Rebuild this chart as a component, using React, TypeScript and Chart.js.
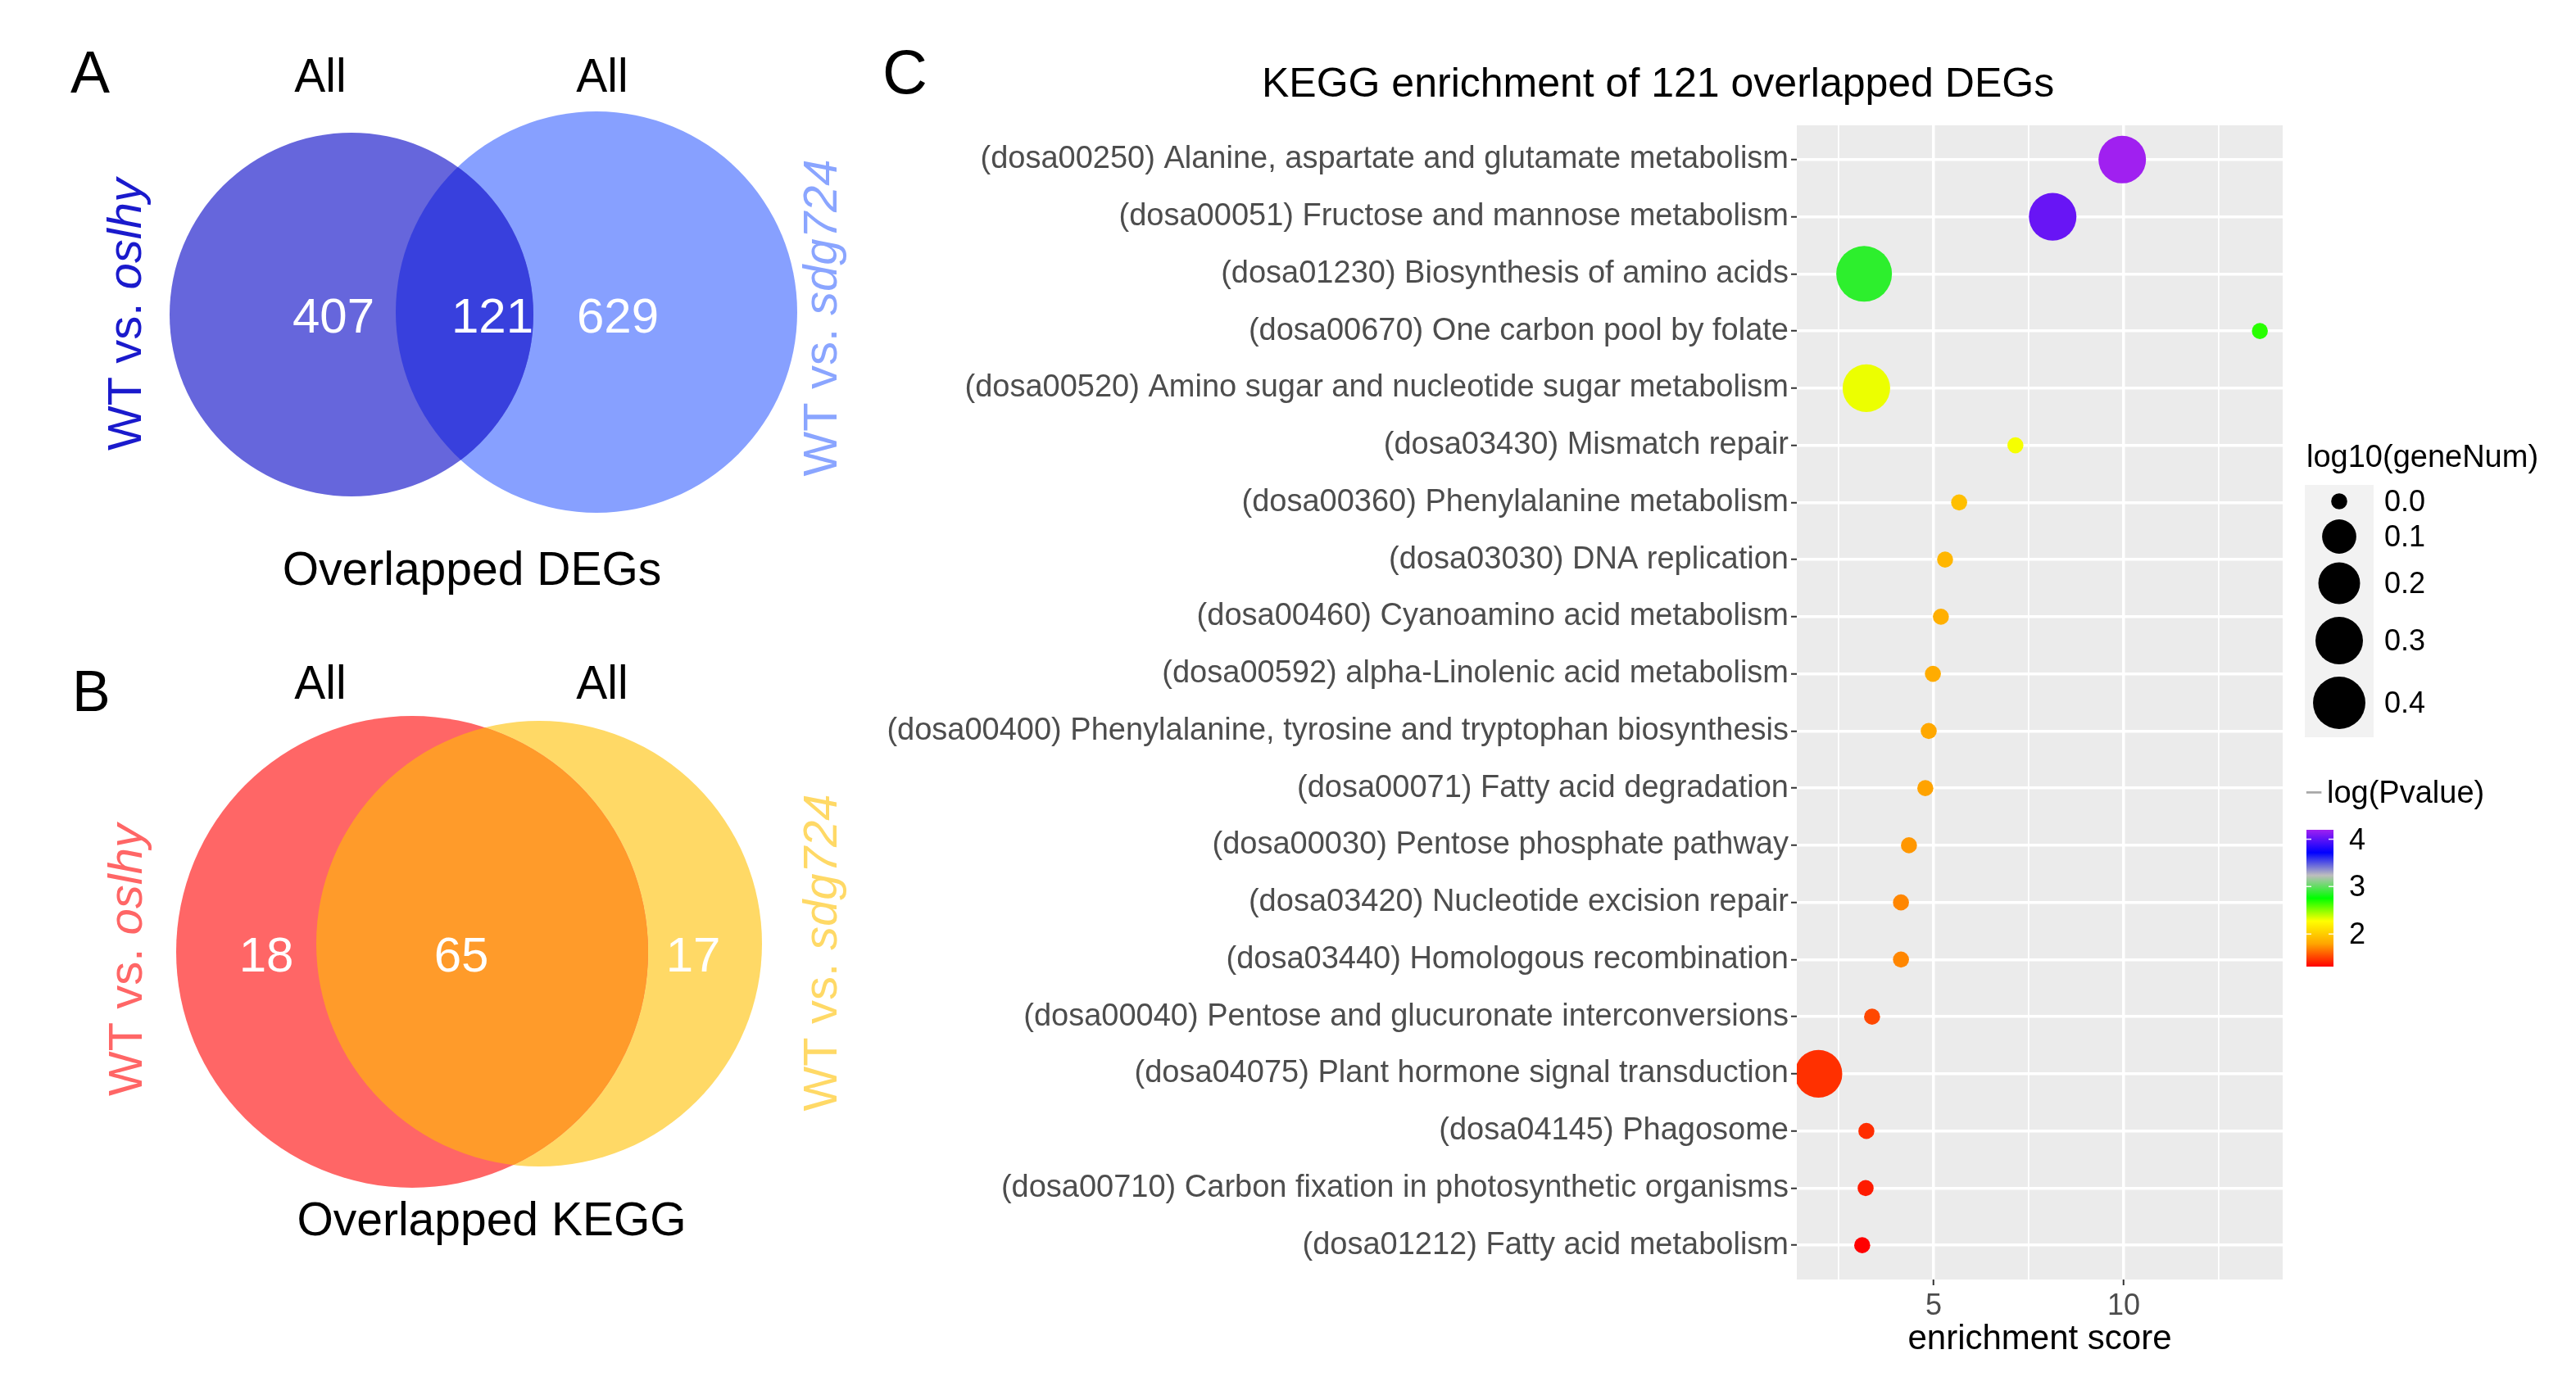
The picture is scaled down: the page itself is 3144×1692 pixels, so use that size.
import React, { useEffect, useRef } from 'react';
import { Chart, registerables } from 'chart.js';

Chart.register(...registerables);

const FONT = "'Liberation Sans', Arial, Helvetica, sans-serif";

// ---------------- DATA ----------------
// Venn diagrams (A: DEGs, B: KEGG pathways)
const vennPanelLetters = ['A', 'B'];
const vennTopLabels = ['All', 'All'];
const vennSetPrefix = 'WT vs. ';
const vennSetMutants = ['oslhy', 'sdg724'];
const degCounts = [407, 121, 629]; // left only, overlap, right only
const keggCounts = [18, 65, 17]; // left only, overlap, right only
const vennTitles = ['Overlapped DEGs', 'Overlapped KEGG'];

// Panel C: KEGG enrichment bubble chart
const keggTitle = 'KEGG enrichment of 121 overlapped DEGs';
const pathways = [
  '(dosa00250) Alanine, aspartate and glutamate metabolism',
  '(dosa00051) Fructose and mannose metabolism',
  '(dosa01230) Biosynthesis of amino acids',
  '(dosa00670) One carbon pool by folate',
  '(dosa00520) Amino sugar and nucleotide sugar metabolism',
  '(dosa03430) Mismatch repair',
  '(dosa00360) Phenylalanine metabolism',
  '(dosa03030) DNA replication',
  '(dosa00460) Cyanoamino acid metabolism',
  '(dosa00592) alpha-Linolenic acid metabolism',
  '(dosa00400) Phenylalanine, tyrosine and tryptophan biosynthesis',
  '(dosa00071) Fatty acid degradation',
  '(dosa00030) Pentose phosphate pathway',
  '(dosa03420) Nucleotide excision repair',
  '(dosa03440) Homologous recombination',
  '(dosa00040) Pentose and glucuronate interconversions',
  '(dosa04075) Plant hormone signal transduction',
  '(dosa04145) Phagosome',
  '(dosa00710) Carbon fixation in photosynthetic organisms',
  '(dosa01212) Fatty acid metabolism',
];
const enrichmentScore = [9.96, 8.13, 3.17, 13.58, 3.23, 7.15, 5.67, 5.3, 5.19, 4.98, 4.87, 4.78, 4.35, 4.14, 4.14, 3.38, 1.97, 3.23, 3.21, 3.12];
const negLogP = [4.2, 4.03, 2.87, 2.68, 2.31, 2.29, 1.93, 1.885, 1.845, 1.83, 1.81, 1.785, 1.75, 1.70, 1.70, 1.52, 1.45, 1.44, 1.39, 1.31];
const geneNum = [2, 2, 3, 1, 2, 1, 1, 1, 1, 1, 1, 1, 1, 1, 1, 1, 2, 1, 1, 1];

const xAxisTitle = 'enrichment score';
const xGridValues = [2.5, 5, 7.5, 10, 12.5];
const xTickLabels = ['', '5', '', '10', ''];
const sizeLegendTitle = 'log10(geneNum)';
const sizeLegendBreaks = [0.0, 0.1, 0.2, 0.3, 0.4];
const sizeLegendLabels = ['0.0', '0.1', '0.2', '0.3', '0.4'];
const colorLegendTitle = 'log(Pvalue)';
const colorLegendBreaks = [4, 3, 2];
const colorLegendLabels = ['4', '3', '2'];

// ---------------- STYLE / LAYOUT ----------------
const colorStops = ['#FF0000', '#FFA500', '#FFFF00', '#00FF00', '#BEBEBE', '#0000FF', '#A020F0'];

const VENN_LAYOUT = [
  {
    circles: [
      { x: 429, y: 384, r: 222 },
      { x: 728, y: 381, r: 245 },
    ],
    fills: ['#6666DC', '#87A0FF'],
    overlap: '#3840DD',
    letter: { x: 86, y: 113, size: 72 },
    topY: 112,
    topX: [391, 735],
    countX: [407, 601, 754],
    countY: 406,
    titleX: 576,
    titleY: 714,
    side: [
      { x: 172, y: 384, color: '#1A1ACC' },
      { x: 1021, y: 388, color: '#8AA5FF' },
    ],
  },
  {
    circles: [
      { x: 503, y: 1162, r: 288 },
      { x: 658, y: 1152, r: 272 },
    ],
    fills: ['#FF6666', '#FFD966'],
    overlap: '#FF9B2A',
    letter: { x: 88, y: 868, size: 70 },
    topY: 853,
    topX: [391, 735],
    countX: [325, 563, 846],
    countY: 1186,
    titleX: 600,
    titleY: 1508,
    side: [
      { x: 173, y: 1172, color: '#FF6666' },
      { x: 1021, y: 1163, color: '#FFD966' },
    ],
  },
];

const KEGG_LAYOUT = {
  letter: { x: 1077, y: 114, size: 76 },
  title: { x: 1540, y: 118, size: 50 },
  sizeLegend: { titleX: 2815, titleY: 570, box: { x: 2813, y: 592, w: 84, h: 308 }, keyX: 2855, keyY: [612, 655, 712, 782, 858], labelX: 2910 },
  colorLegend: { titleX: 2815, titleY: 980, bar: { x: 2815, y: 1013, w: 33, h: 167 }, labelX: 2867 },
};

const P_MIN = Math.min(...negLogP);
const P_MAX = Math.max(...negLogP);
const LOG_GENE = geneNum.map((g) => Math.log10(g));
const SIZE_MAX = Math.max(...LOG_GENE);

function hexToRgb(h: string) {
  const n = parseInt(h.slice(1), 16);
  return [(n >> 16) & 255, (n >> 8) & 255, n & 255];
}
function colorFor(v: number) {
  const t = Math.max(0, Math.min(1, (v - P_MIN) / (P_MAX - P_MIN)));
  const seg = t * (colorStops.length - 1);
  const i = Math.min(colorStops.length - 2, Math.floor(seg));
  const f = seg - i;
  const a = hexToRgb(colorStops[i]);
  const b = hexToRgb(colorStops[i + 1]);
  const c = a.map((x, k) => Math.round(x + (b[k] - x) * f));
  return `rgb(${c[0]},${c[1]},${c[2]})`;
}
function radiusFor(v: number) {
  return 9.8 + 24.2 * Math.sqrt(Math.max(0, v) / SIZE_MAX);
}

function drawText(ctx: CanvasRenderingContext2D, text: string, x: number, y: number, size: number, color: string, align: CanvasTextAlign = 'left', style = 'normal') {
  ctx.save();
  ctx.font = `${style} ${size}px ${FONT}`;
  ctx.fillStyle = color;
  ctx.textAlign = align;
  ctx.textBaseline = 'alphabetic';
  ctx.fillText(text, x, y);
  ctx.restore();
}

function drawRotatedLabel(ctx: CanvasRenderingContext2D, prefix: string, italicPart: string, bx: number, cy: number, size: number, color: string) {
  ctx.save();
  ctx.translate(bx, cy);
  ctx.rotate(-Math.PI / 2);
  ctx.fillStyle = color;
  ctx.textBaseline = 'alphabetic';
  ctx.textAlign = 'left';
  const fN = `normal ${size}px ${FONT}`;
  const fI = `italic ${size}px ${FONT}`;
  ctx.font = fN;
  const w1 = ctx.measureText(prefix).width;
  ctx.font = fI;
  const w2 = ctx.measureText(italicPart).width;
  const start = -(w1 + w2) / 2;
  ctx.font = fN;
  ctx.fillText(prefix, start, 0);
  ctx.font = fI;
  ctx.fillText(italicPart, start + w1, 0);
  ctx.restore();
}

const vennPlugin = {
  id: 'vennDecor',
  afterDatasetsDraw(chart: any) {
    const ctx: CanvasRenderingContext2D = chart.ctx;
    VENN_LAYOUT.forEach((lay, p) => {
      const e0 = chart.getDatasetMeta(p * 2).data[0];
      const e1 = chart.getDatasetMeta(p * 2 + 1).data[0];
      ctx.save();
      ctx.beginPath();
      ctx.arc(e0.x, e0.y, lay.circles[0].r, 0, Math.PI * 2);
      ctx.clip();
      ctx.beginPath();
      ctx.arc(e1.x, e1.y, lay.circles[1].r, 0, Math.PI * 2);
      ctx.fillStyle = lay.overlap;
      ctx.fill();
      ctx.restore();

      const counts = p === 0 ? degCounts : keggCounts;
      counts.forEach((c, i) => drawText(ctx, String(c), lay.countX[i], lay.countY, 60, '#FFFFFF', 'center'));
      drawText(ctx, vennPanelLetters[p], lay.letter.x, lay.letter.y, lay.letter.size, '#000000', 'left');
      vennTopLabels.forEach((t, i) => drawText(ctx, t, lay.topX[i], lay.topY, 57, '#000000', 'center'));
      drawText(ctx, vennTitles[p], lay.titleX, lay.titleY, 57, '#000000', 'center');
      lay.side.forEach((s, i) => drawRotatedLabel(ctx, vennSetPrefix, vennSetMutants[i], s.x, s.y, 58, s.color));
    });
  },
};

const keggPlugin = {
  id: 'keggDecor',
  beforeDraw(chart: any) {
    const { ctx, chartArea: a } = chart;
    ctx.save();
    ctx.fillStyle = '#EBEBEB';
    ctx.fillRect(a.left, a.top, a.right - a.left, a.bottom - a.top);
    ctx.restore();
  },
  afterDraw(chart: any) {
    const ctx: CanvasRenderingContext2D = chart.ctx;
    const L = KEGG_LAYOUT;
    drawText(ctx, 'C', L.letter.x, L.letter.y, L.letter.size, '#000000');
    drawText(ctx, keggTitle, L.title.x, L.title.y, L.title.size, '#000000');

    // size legend
    const S = L.sizeLegend;
    drawText(ctx, sizeLegendTitle, S.titleX, S.titleY, 38, '#000000');
    ctx.save();
    ctx.fillStyle = '#F2F2F2';
    ctx.fillRect(S.box.x, S.box.y, S.box.w, S.box.h);
    ctx.fillStyle = '#000000';
    sizeLegendBreaks.forEach((v, i) => {
      ctx.beginPath();
      ctx.arc(S.keyX, S.keyY[i], radiusFor(v), 0, Math.PI * 2);
      ctx.fill();
    });
    ctx.restore();
    sizeLegendLabels.forEach((t, i) => drawText(ctx, t, S.labelX, S.keyY[i] + 12, 36, '#000000'));

    // colour bar legend
    const C = L.colorLegend;
    drawText(ctx, '\u2212', C.titleX - 2, C.titleY, 38, '#A8A8A8');
    drawText(ctx, colorLegendTitle, C.titleX + 25, C.titleY, 38, '#000000');
    ctx.save();
    const g = ctx.createLinearGradient(0, C.bar.y, 0, C.bar.y + C.bar.h);
    for (let k = 0; k <= 60; k++) {
      const v = P_MAX - (k / 60) * (P_MAX - P_MIN);
      g.addColorStop(k / 60, colorFor(v));
    }
    ctx.fillStyle = g;
    ctx.fillRect(C.bar.x, C.bar.y, C.bar.w, C.bar.h);
    ctx.strokeStyle = 'rgba(255,255,255,0.9)';
    ctx.lineWidth = 1.5;
    colorLegendBreaks.forEach((v) => {
      const y = C.bar.y + ((P_MAX - v) / (P_MAX - P_MIN)) * C.bar.h;
      ctx.beginPath();
      ctx.moveTo(C.bar.x, y);
      ctx.lineTo(C.bar.x + 6, y);
      ctx.moveTo(C.bar.x + C.bar.w - 6, y);
      ctx.lineTo(C.bar.x + C.bar.w, y);
      ctx.stroke();
    });
    ctx.restore();
    colorLegendBreaks.forEach((v, i) => {
      const y = C.bar.y + ((P_MAX - v) / (P_MAX - P_MIN)) * C.bar.h;
      drawText(ctx, colorLegendLabels[i], C.labelX, y + 12, 36, '#000000');
    });
  },
};

export default function App() {
  const vennRef = useRef<HTMLCanvasElement>(null);
  const keggRef = useRef<HTMLCanvasElement>(null);

  useEffect(() => {
    Chart.defaults.font.family = FONT;

    const vennDatasets: any[] = [];
    VENN_LAYOUT.forEach((lay) => {
      lay.circles.forEach((c, i) => {
        vennDatasets.push({
          data: [{ x: c.x, y: c.y, r: c.r }],
          backgroundColor: lay.fills[i],
          borderWidth: 0,
          hoverRadius: 0,
          clip: false,
        });
      });
    });

    const venn = new Chart(vennRef.current as HTMLCanvasElement, {
      type: 'bubble',
      data: { datasets: vennDatasets },
      options: {
        responsive: false,
        animation: false,
        events: [],
        layout: { padding: 0, autoPadding: false },
        plugins: { legend: { display: false }, tooltip: { enabled: false } },
        scales: {
          x: { type: 'linear', display: false, min: 0, max: 1050 },
          y: { type: 'linear', display: false, min: 0, max: 1692, reverse: true },
        },
      },
      plugins: [vennPlugin],
    } as any);

    const points = pathways.map((_, i) => ({ x: enrichmentScore[i], y: i + 1, r: radiusFor(LOG_GENE[i]) }));
    const colors = negLogP.map((v) => colorFor(v));

    const kegg = new Chart(keggRef.current as HTMLCanvasElement, {
      type: 'bubble',
      data: {
        datasets: [
          {
            data: points,
            backgroundColor: colors,
            borderWidth: 0,
            hoverRadius: 0,
          },
        ],
      },
      options: {
        responsive: false,
        animation: false,
        events: [],
        layout: { padding: { left: 1063, right: 358, top: 153, bottom: 20 }, autoPadding: false },
        plugins: { legend: { display: false }, tooltip: { enabled: false }, title: { display: false } },
        scales: {
          x: {
            type: 'linear',
            position: 'bottom',
            min: 1.4,
            max: 14.18,
            afterBuildTicks: (scale: any) => {
              scale.ticks = xGridValues.map((v) => ({ value: v }));
            },
            afterFit: (scale: any) => {
              scale.height = 110;
            },
            ticks: {
              autoSkip: false,
              maxRotation: 0,
              padding: 4,
              color: '#4D4D4D',
              font: { size: 36, family: FONT },
              callback: (_v: any, i: number) => xTickLabels[i],
            },
            grid: {
              color: '#FFFFFF',
              lineWidth: (c: any) => (c.tick && c.tick.value % 5 === 0 ? 3.5 : 1.8),
              tickColor: (c: any) => (c.tick && c.tick.value % 5 === 0 ? '#333333' : 'rgba(0,0,0,0)'),
              tickLength: 7,
              tickWidth: 2,
            },
            border: { display: false },
            title: {
              display: true,
              text: xAxisTitle,
              color: '#000000',
              font: { size: 42, family: FONT },
              padding: { top: 0, bottom: 11 },
            },
          },
          y: {
            type: 'linear',
            min: 0.4,
            max: 20.6,
            reverse: true,
            afterBuildTicks: (scale: any) => {
              scale.ticks = pathways.map((_, i) => ({ value: i + 1 }));
            },
            afterFit: (scale: any) => {
              scale.width = 1130;
            },
            ticks: {
              autoSkip: false,
              padding: 3,
              color: '#4D4D4D',
              font: { size: 38, family: FONT },
              callback: (_v: any, i: number) => pathways[i],
            },
            grid: {
              color: '#FFFFFF',
              lineWidth: 3.5,
              tickColor: '#333333',
              tickLength: 7,
              tickWidth: 2,
            },
            border: { display: false },
          },
        },
      },
      plugins: [keggPlugin],
    } as any);

    return () => {
      venn.destroy();
      kegg.destroy();
    };
  }, []);

  return (
    <div style={{ position: 'fixed', left: 0, top: 0, width: 3144, height: 1692, background: '#FFFFFF', overflow: 'hidden' }}>
      <canvas ref={vennRef} width={1050} height={1692} style={{ position: 'absolute', left: 0, top: 0, width: 1050, height: 1692 }} />
      <canvas ref={keggRef} width={3144} height={1692} style={{ position: 'absolute', left: 0, top: 0, width: 3144, height: 1692 }} />
    </div>
  );
}
